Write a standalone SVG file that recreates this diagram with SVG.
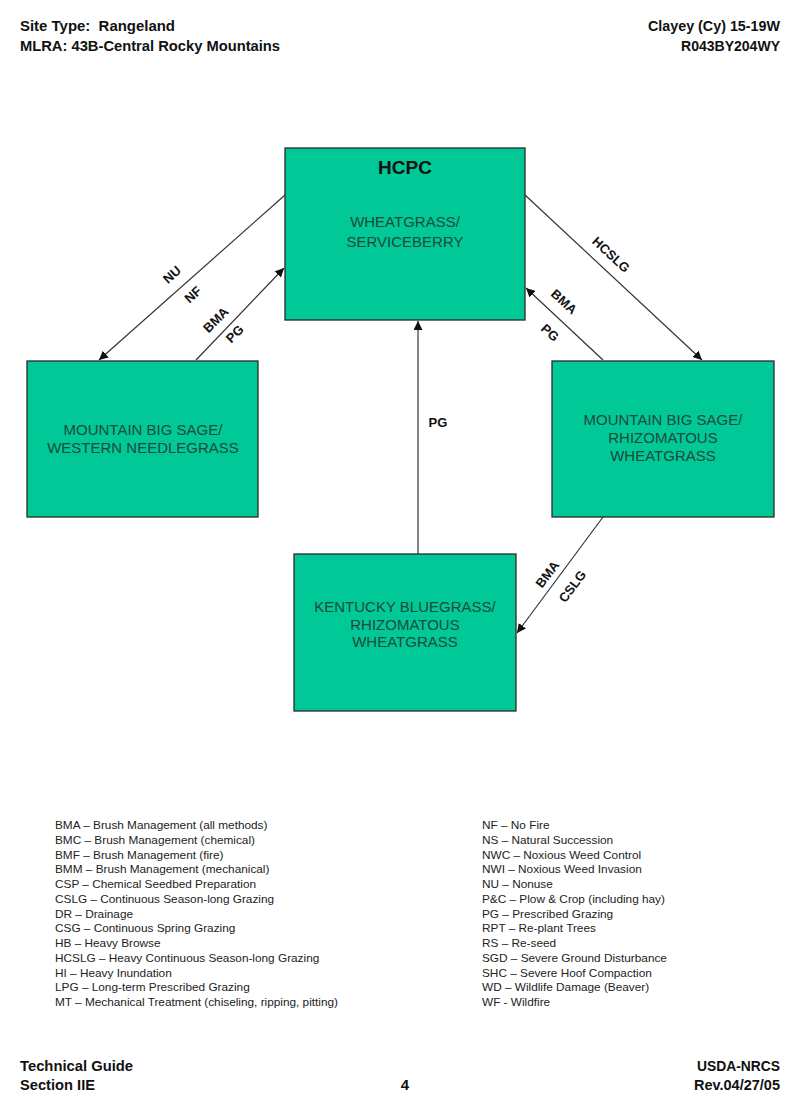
<svg xmlns="http://www.w3.org/2000/svg" width="800" height="1108" viewBox="0 0 800 1108">
<defs>
<marker id="ah" viewBox="0 0 10 10" refX="10" refY="5" markerWidth="9" markerHeight="9" markerUnits="userSpaceOnUse" orient="auto">
<path d="M0,0 L10,5 L0,10 z" fill="#111"/>
</marker>
</defs>
<style>
.hdr{font-family:"Liberation Sans Narrow","Liberation Sans",Arial,sans-serif;font-weight:bold;font-size:15px;fill:#111;white-space:pre}
.box{fill:#00c896;stroke:#2a2a2a;stroke-width:1.3}
.bt{font-family:"Liberation Sans",Arial,sans-serif;font-size:15px;fill:#1d4a3a;text-anchor:middle}
.ttl{font-family:"Liberation Sans",Arial,sans-serif;font-size:19px;font-weight:bold;fill:#111;text-anchor:middle}
.cn{stroke:#333;stroke-width:1.2;fill:none;marker-end:url(#ah)}
.lb{font-family:"Liberation Sans",Arial,sans-serif;font-size:13px;font-weight:bold;fill:#111;text-anchor:middle}
.lg{font-family:"Liberation Sans",Arial,sans-serif;font-size:11.8px;fill:#222}
</style>
<rect width="800" height="1108" fill="#fff"/>
<g id="header">
<text class="hdr" x="20" y="31" textLength="155" lengthAdjust="spacingAndGlyphs" xml:space="preserve">Site Type:  Rangeland</text>
<text class="hdr" x="20" y="51" textLength="260" lengthAdjust="spacingAndGlyphs">MLRA: 43B-Central Rocky Mountains</text>
<text class="hdr" x="648" y="31" textLength="132" lengthAdjust="spacingAndGlyphs">Clayey (Cy) 15-19W</text>
<text class="hdr" x="681" y="51" textLength="99" lengthAdjust="spacingAndGlyphs">R043BY204WY</text>
</g>
<g id="connectors">
<line class="cn" x1="285" y1="195" x2="99" y2="360"/>
<line class="cn" x1="196" y1="360" x2="284" y2="268"/>
<line class="cn" x1="525" y1="195" x2="702" y2="360"/>
<line class="cn" x1="603" y1="360" x2="526" y2="288"/>
<line class="cn" x1="418" y1="554" x2="418" y2="321"/>
<line class="cn" x1="603" y1="517" x2="517" y2="633"/>
<text class="lb" transform="translate(175,278) rotate(-42)">NU</text>
<text class="lb" transform="translate(196,298) rotate(-42)">NF</text>
<text class="lb" transform="translate(219,323) rotate(-45)">BMA</text>
<text class="lb" transform="translate(238,337) rotate(-45)">PG</text>
<text class="lb" transform="translate(608,258) rotate(43)">HCSLG</text>
<text class="lb" transform="translate(561,305) rotate(42)">BMA</text>
<text class="lb" transform="translate(547,336) rotate(42)">PG</text>
<text class="lb" x="438" y="427">PG</text>
<text class="lb" transform="translate(551,577) rotate(-53)">BMA</text>
<text class="lb" transform="translate(576,589) rotate(-53)">CSLG</text>
</g>
<g id="hcpc">
<rect class="box" x="285" y="148" width="240" height="172"/>
<text class="ttl" x="405" y="174">HCPC</text>
<text class="bt" x="405" y="227">WHEATGRASS/</text>
<text class="bt" x="405" y="247">SERVICEBERRY</text>
</g>
<g id="mbs-wn">
<rect class="box" x="27" y="361" width="231" height="156"/>
<text class="bt" x="143" y="435">MOUNTAIN BIG SAGE/</text>
<text class="bt" x="143" y="453">WESTERN NEEDLEGRASS</text>
</g>
<g id="mbs-rw">
<rect class="box" x="552" y="361" width="222" height="156"/>
<text class="bt" x="663" y="425">MOUNTAIN BIG SAGE/</text>
<text class="bt" x="663" y="443">RHIZOMATOUS</text>
<text class="bt" x="663" y="461">WHEATGRASS</text>
</g>
<g id="kb-rw">
<rect class="box" x="294" y="554" width="222" height="157"/>
<text class="bt" x="405" y="612">KENTUCKY BLUEGRASS/</text>
<text class="bt" x="405" y="630">RHIZOMATOUS</text>
<text class="bt" x="405" y="647">WHEATGRASS</text>
</g>
<g id="legend">
<text class="lg" x="55" y="829">BMA – Brush Management (all methods)</text>
<text class="lg" x="55" y="844">BMC – Brush Management (chemical)</text>
<text class="lg" x="55" y="859">BMF – Brush Management (fire)</text>
<text class="lg" x="55" y="873">BMM – Brush Management (mechanical)</text>
<text class="lg" x="55" y="888">CSP – Chemical Seedbed Preparation</text>
<text class="lg" x="55" y="903">CSLG – Continuous Season-long Grazing</text>
<text class="lg" x="55" y="918">DR – Drainage</text>
<text class="lg" x="55" y="932">CSG – Continuous Spring Grazing</text>
<text class="lg" x="55" y="947">HB – Heavy Browse</text>
<text class="lg" x="55" y="962">HCSLG – Heavy Continuous Season-long Grazing</text>
<text class="lg" x="55" y="977">HI – Heavy Inundation</text>
<text class="lg" x="55" y="991">LPG – Long-term Prescribed Grazing</text>
<text class="lg" x="55" y="1006">MT – Mechanical Treatment (chiseling, ripping, pitting)</text>
<text class="lg" x="482" y="829">NF – No Fire</text>
<text class="lg" x="482" y="844">NS – Natural Succession</text>
<text class="lg" x="482" y="859">NWC – Noxious Weed Control</text>
<text class="lg" x="482" y="873">NWI – Noxious Weed Invasion</text>
<text class="lg" x="482" y="888">NU – Nonuse</text>
<text class="lg" x="482" y="903">P&amp;C – Plow &amp; Crop (including hay)</text>
<text class="lg" x="482" y="918">PG – Prescribed Grazing</text>
<text class="lg" x="482" y="932">RPT – Re-plant Trees</text>
<text class="lg" x="482" y="947">RS – Re-seed</text>
<text class="lg" x="482" y="962">SGD – Severe Ground Disturbance</text>
<text class="lg" x="482" y="977">SHC – Severe Hoof Compaction</text>
<text class="lg" x="482" y="991">WD – Wildlife Damage (Beaver)</text>
<text class="lg" x="482" y="1006">WF - Wildfire</text>
</g>
<g id="footer">
<text class="hdr" x="20" y="1071" textLength="113" lengthAdjust="spacingAndGlyphs">Technical Guide</text>
<text class="hdr" x="20" y="1090" textLength="75" lengthAdjust="spacingAndGlyphs">Section IIE</text>
<text class="hdr" x="405" y="1090" text-anchor="middle">4</text>
<text class="hdr" x="697" y="1071" textLength="83" lengthAdjust="spacingAndGlyphs">USDA-NRCS</text>
<text class="hdr" x="694" y="1090" textLength="86" lengthAdjust="spacingAndGlyphs">Rev.04/27/05</text>
</g>
</svg>
